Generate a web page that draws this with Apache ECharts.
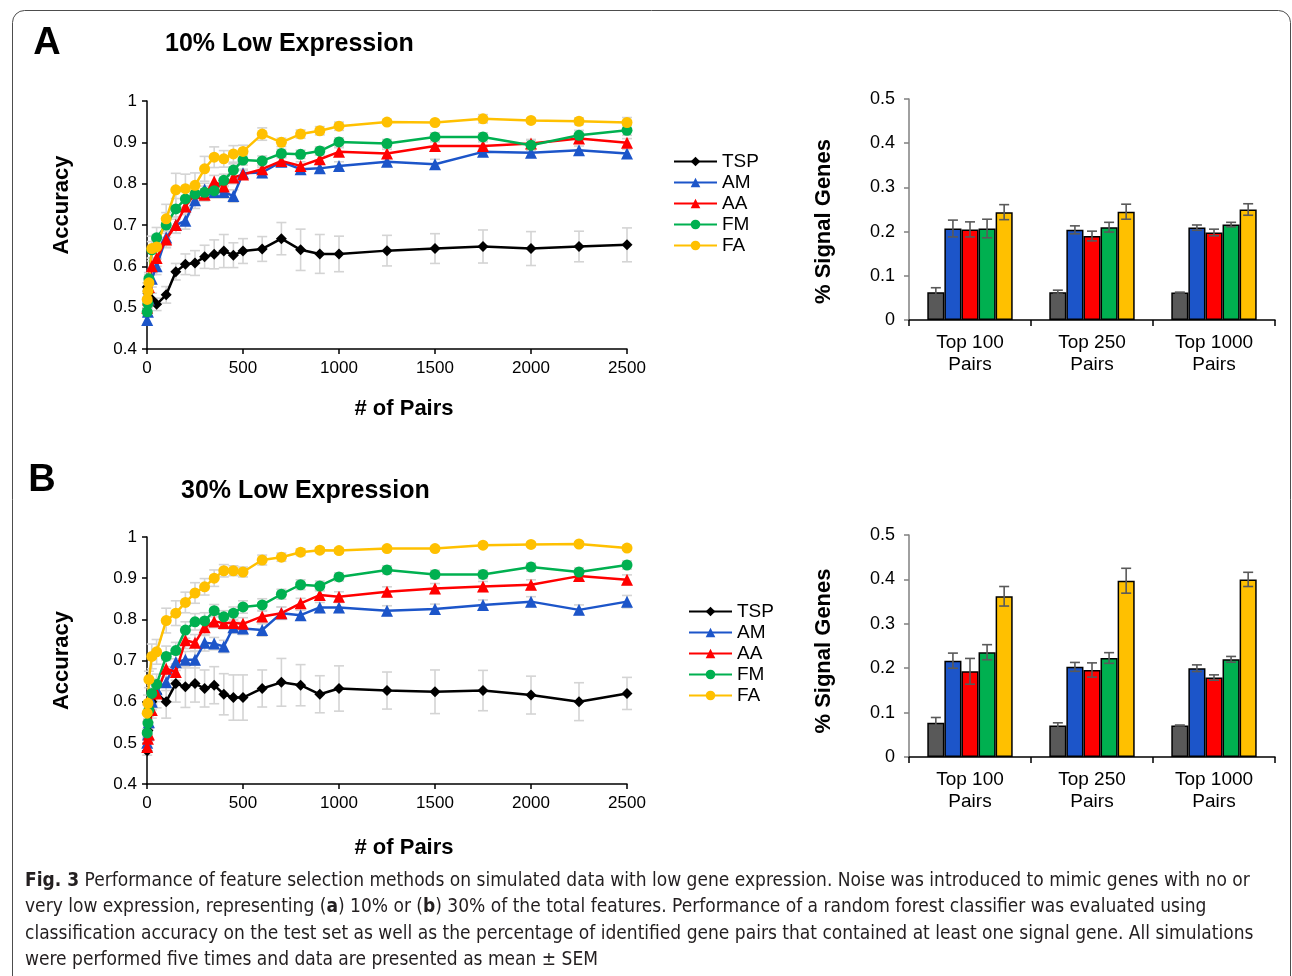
<!DOCTYPE html>
<html lang="en">
<head>
<meta charset="utf-8" />
<title>Fig. 3 - low gene expression</title>
<style>
* { margin: 0; padding: 0; }
#chart-container { position: relative; width: 1292px; height: 976px; overflow: hidden; background: #fff; }
</style>
</head>
<body>
<div id="chart-container"></div>
<script src="https://cdn.jsdelivr.net/npm/echarts@6/dist/echarts.min.js"></script>
<script>
// x positions (# of pairs)
var pairs = [1, 5, 10, 25, 50, 100, 150, 200, 250, 300, 350, 400, 450, 500, 600, 700, 800, 900, 1000, 1250, 1500, 1750, 2000, 2250, 2500];
var methods = ['TSP', 'AM', 'AA', 'FM', 'FA'];
var groups = ['Top 100\nPairs', 'Top 250\nPairs', 'Top 1000\nPairs'];

// panel A - 10% low expression, accuracy
var tspA = [0.55, 0.535, 0.525, 0.52, 0.508, 0.531, 0.587, 0.605, 0.608, 0.623, 0.629, 0.637, 0.627, 0.637, 0.642, 0.667, 0.640, 0.630, 0.630, 0.638, 0.643, 0.648, 0.643, 0.648, 0.652];
var amA = [0.47, 0.49, 0.52, 0.57, 0.60, 0.67, 0.70, 0.71, 0.76, 0.786, 0.78, 0.78, 0.77, 0.825, 0.827, 0.853, 0.835, 0.837, 0.843, 0.853, 0.847, 0.877, 0.875, 0.881, 0.873];
var aaA = [0.50, 0.52, 0.55, 0.60, 0.62, 0.665, 0.70, 0.745, 0.777, 0.773, 0.805, 0.793, 0.815, 0.822, 0.835, 0.855, 0.843, 0.859, 0.877, 0.873, 0.891, 0.891, 0.897, 0.909, 0.899];
var fmA = [0.49, 0.51, 0.57, 0.64, 0.669, 0.70, 0.739, 0.763, 0.775, 0.779, 0.783, 0.808, 0.833, 0.857, 0.855, 0.873, 0.871, 0.879, 0.901, 0.897, 0.913, 0.913, 0.893, 0.917, 0.929];
var faA = [0.52, 0.54, 0.56, 0.643, 0.647, 0.715, 0.785, 0.788, 0.796, 0.836, 0.864, 0.86, 0.872, 0.878, 0.92, 0.90, 0.92, 0.928, 0.939, 0.949, 0.948, 0.957, 0.953, 0.951, 0.948];
var tspAErr = [0.01, 0.01, 0.01, 0.015, 0.015, 0.02, 0.02, 0.025, 0.03, 0.028, 0.035, 0.04, 0.03, 0.03, 0.03, 0.039, 0.05, 0.047, 0.043, 0.037, 0.036, 0.04, 0.041, 0.037, 0.041];
var amAErr = [0.01, 0.01, 0.015, 0.02, 0.02, 0.02, 0.02, 0.02, 0.02, 0.015, 0.015, 0.015, 0.015, 0.01, 0.012, 0.01, 0.01, 0.01, 0.01, 0.01, 0.012, 0.01, 0.01, 0.01, 0.01];
var aaAErr = [0.01, 0.01, 0.015, 0.02, 0.02, 0.02, 0.02, 0.02, 0.02, 0.015, 0.015, 0.015, 0.015, 0.01, 0.01, 0.01, 0.01, 0.01, 0.01, 0.01, 0.01, 0.01, 0.01, 0.01, 0.01];
var fmAErr = [0.01, 0.01, 0.015, 0.02, 0.025, 0.03, 0.025, 0.02, 0.02, 0.015, 0.015, 0.015, 0.015, 0.012, 0.012, 0.01, 0.01, 0.01, 0.01, 0.01, 0.01, 0.01, 0.012, 0.012, 0.012];
var faAErr = [0.02, 0.02, 0.02, 0.03, 0.03, 0.035, 0.04, 0.035, 0.03, 0.03, 0.025, 0.02, 0.02, 0.015, 0.015, 0.01, 0.01, 0.01, 0.01, 0.005, 0.005, 0.01, 0.005, 0.008, 0.012];

// panel B - 30% low expression, accuracy
var tspB = [0.48, 0.53, 0.57, 0.60, 0.62, 0.60, 0.644, 0.636, 0.644, 0.632, 0.64, 0.618, 0.61, 0.61, 0.632, 0.647, 0.64, 0.618, 0.632, 0.627, 0.624, 0.627, 0.616, 0.60, 0.62];
var amB = [0.50, 0.52, 0.55, 0.60, 0.63, 0.647, 0.696, 0.702, 0.702, 0.743, 0.741, 0.734, 0.781, 0.778, 0.774, 0.815, 0.81, 0.829, 0.829, 0.821, 0.825, 0.835, 0.843, 0.823, 0.843];
var aaB = [0.49, 0.51, 0.52, 0.58, 0.62, 0.68, 0.672, 0.749, 0.743, 0.781, 0.795, 0.791, 0.791, 0.789, 0.807, 0.815, 0.839, 0.859, 0.855, 0.867, 0.875, 0.88, 0.884, 0.905, 0.896];
var fmB = [0.524, 0.548, 0.58, 0.62, 0.642, 0.71, 0.724, 0.774, 0.794, 0.796, 0.821, 0.806, 0.815, 0.83, 0.835, 0.861, 0.884, 0.881, 0.903, 0.92, 0.909, 0.909, 0.927, 0.915, 0.932];
var faB = [0.572, 0.596, 0.654, 0.71, 0.721, 0.797, 0.815, 0.841, 0.864, 0.879, 0.9, 0.918, 0.918, 0.915, 0.944, 0.951, 0.963, 0.968, 0.967, 0.972, 0.972, 0.98, 0.982, 0.983, 0.973];
var tspBErr = [0.01, 0.02, 0.02, 0.03, 0.035, 0.04, 0.045, 0.05, 0.045, 0.045, 0.045, 0.05, 0.055, 0.055, 0.045, 0.058, 0.05, 0.045, 0.055, 0.045, 0.053, 0.049, 0.046, 0.046, 0.039];
var amBErr = [0.01, 0.01, 0.015, 0.02, 0.02, 0.02, 0.02, 0.02, 0.02, 0.02, 0.015, 0.015, 0.015, 0.015, 0.015, 0.015, 0.012, 0.012, 0.012, 0.012, 0.012, 0.012, 0.012, 0.012, 0.015];
var aaBErr = [0.01, 0.01, 0.015, 0.02, 0.02, 0.02, 0.02, 0.02, 0.02, 0.02, 0.015, 0.015, 0.015, 0.015, 0.015, 0.015, 0.012, 0.012, 0.012, 0.012, 0.012, 0.012, 0.012, 0.012, 0.012];
var fmBErr = [0.01, 0.01, 0.015, 0.02, 0.025, 0.025, 0.02, 0.02, 0.02, 0.02, 0.015, 0.015, 0.015, 0.015, 0.015, 0.012, 0.012, 0.012, 0.01, 0.01, 0.01, 0.01, 0.01, 0.01, 0.01];
var faBErr = [0.02, 0.02, 0.02, 0.03, 0.03, 0.03, 0.03, 0.025, 0.025, 0.02, 0.02, 0.015, 0.012, 0.012, 0.012, 0.01, 0.008, 0.006, 0.006, 0.005, 0.005, 0.005, 0.005, 0.005, 0.005];

// % signal genes (bars)
var sigA = {
  TSP: [0.063, 0.063, 0.062], AM: [0.207, 0.204, 0.209], AA: [0.205, 0.19, 0.198],
  FM: [0.207, 0.21, 0.216], FA: [0.244, 0.245, 0.25]
};
var sigAErr = {
  TSP: [0.01, 0.0045, 0.001], AM: [0.019, 0.009, 0.006], AA: [0.017, 0.011, 0.0075],
  FM: [0.021, 0.011, 0.005], FA: [0.017, 0.017, 0.013]
};
var sigB = {
  TSP: [0.077, 0.071, 0.071], AM: [0.217, 0.203, 0.2], AA: [0.193, 0.196, 0.179],
  FM: [0.236, 0.223, 0.22], FA: [0.362, 0.397, 0.4]
};
var sigBErr = {
  TSP: [0.012, 0.006, 0.001], AM: [0.017, 0.01, 0.0075], AA: [0.029, 0.016, 0.006],
  FM: [0.017, 0.012, 0.0065], FA: [0.022, 0.028, 0.016]
};

var lineColors = { TSP: '#000000', AM: '#1c55c9', AA: '#ff0000', FM: '#00b050', FA: '#ffc000' };
var barColors = { TSP: '#595959', AM: '#1c55c9', AA: '#ff0000', FM: '#00b050', FA: '#ffc000' };
var symbols = { TSP: 'diamond', AM: 'triangle', AA: 'triangle', FM: 'circle', FA: 'circle' };
var symSize = { TSP: 11, AM: 12, AA: 12, FM: 11, FA: 11 };

var FONT = 'Liberation Sans, Arial, sans-serif';

var dom = document.getElementById('chart-container');
var myChart = echarts.init(dom, null, { renderer: 'canvas' });

function errRender(params, api) {
  var x = api.value(0);
  var p1 = api.coord([x, api.value(1)]);
  var p2 = api.coord([x, api.value(2)]);
  var w = 5;
  var st = { stroke: '#d4d4d4', lineWidth: 1.6 };
  return {
    type: 'group',
    children: [
      { type: 'line', shape: { x1: p1[0], y1: p1[1], x2: p2[0], y2: p2[1] }, style: st },
      { type: 'line', shape: { x1: p1[0] - w, y1: p1[1], x2: p1[0] + w, y2: p1[1] }, style: st },
      { type: 'line', shape: { x1: p2[0] - w, y1: p2[1], x2: p2[0] + w, y2: p2[1] }, style: st }
    ]
  };
}

function barErrRender(params, api) {
  var cat = api.value(0);
  var k = api.value(3);
  var lo = api.coord([cat, api.value(1)]);
  var hi = api.coord([cat, api.value(2)]);
  var bw = api.size([1, 0])[0] * 0.7 / 5;
  var x = lo[0] + (k - 2) * bw;
  var w = 5;
  var st = { stroke: '#595959', lineWidth: 1.6 };
  return {
    type: 'group',
    children: [
      { type: 'line', shape: { x1: x, y1: lo[1], x2: x, y2: hi[1] }, style: st },
      { type: 'line', shape: { x1: x - w, y1: lo[1], x2: x + w, y2: lo[1] }, style: st },
      { type: 'line', shape: { x1: x - w, y1: hi[1], x2: x + w, y2: hi[1] }, style: st }
    ]
  };
}

var series = [];

function addLinePanel(idx, vals, errs) {
  methods.forEach(function (m, j) {
    var ed = [];
    for (var i = 0; i < pairs.length; i++) {
      ed.push([pairs[i], vals[j][i] - errs[j][i], vals[j][i] + errs[j][i]]);
    }
    series.push({
      type: 'custom', name: m + ' err' + idx, xAxisIndex: idx, yAxisIndex: idx,
      renderItem: errRender, data: ed, encode: { x: 0, y: [1, 2] }, z: 1, silent: true, clip: false
    });
  });
  methods.forEach(function (m, j) {
    var d = [];
    for (var i = 0; i < pairs.length; i++) d.push([pairs[i], vals[j][i]]);
    series.push({
      type: 'line', name: m, xAxisIndex: idx, yAxisIndex: idx, data: d,
      symbol: symbols[m], symbolSize: symSize[m], showAllSymbol: true, clip: false,
      color: lineColors[m],
      lineStyle: { color: lineColors[m], width: 2.5 },
      itemStyle: { color: lineColors[m] }, z: 3
    });
  });
}

function addBarPanel(idx, vals, errs) {
  var ed = [];
  methods.forEach(function (m, k) {
    series.push({
      type: 'bar', name: m + ' %' + idx, xAxisIndex: idx, yAxisIndex: idx,
      data: vals[m], barGap: '0%', barCategoryGap: '30%',
      itemStyle: { color: barColors[m], borderColor: '#000', borderWidth: 1.5 }, z: 2
    });
    for (var c = 0; c < groups.length; c++) {
      ed.push([c, vals[m][c] - errs[m][c], vals[m][c] + errs[m][c], k]);
    }
  });
  series.push({
    type: 'custom', name: 'bar err' + idx, xAxisIndex: idx, yAxisIndex: idx,
    renderItem: barErrRender, data: ed, encode: { x: 0, y: [1, 2] }, z: 4, silent: true, clip: false
  });
}

addLinePanel(0, [tspA, amA, aaA, fmA, faA], [tspAErr, amAErr, aaAErr, fmAErr, faAErr]);
addBarPanel(1, sigA, sigAErr);
addLinePanel(2, [tspB, amB, aaB, fmB, faB], [tspBErr, amBErr, aaBErr, fmBErr, faBErr]);
addBarPanel(3, sigB, sigBErr);

function accX(gap) {
  return {
    type: 'value', min: 0, max: 2500, interval: 500,
    axisLine: { show: true, lineStyle: { color: '#000', width: 1.5 } },
    axisTick: { show: true, length: 5, lineStyle: { color: '#000', width: 1.5 } },
    axisLabel: {
      fontSize: 17, color: '#000', fontFamily: FONT, margin: 11,
      formatter: function (v) { return String(v); }
    },
    splitLine: { show: false },
    name: '# of Pairs', nameLocation: 'middle', nameGap: gap,
    nameTextStyle: { fontSize: 22, fontWeight: 'bold', color: '#000', fontFamily: FONT, padding: [0, 0, 0, 34] }
  };
}
function accY(pad) {
  return {
    type: 'value', min: 0.4, max: 1, interval: 0.1,
    axisLine: { show: true, lineStyle: { color: '#000', width: 1.5 } },
    axisTick: { show: true, length: 5, lineStyle: { color: '#000', width: 1.5 } },
    axisLabel: {
      fontSize: 17, color: '#000', fontFamily: FONT, margin: 10,
      formatter: function (v) { return Math.abs(v - 1) < 1e-9 ? '1' : v.toFixed(1); }
    },
    splitLine: { show: false },
    name: 'Accuracy', nameLocation: 'middle', nameGap: 74, nameRotate: 90,
    nameTextStyle: { fontSize: 22, fontWeight: 'bold', color: '#000', fontFamily: FONT, padding: pad }
  };
}
function sigX() {
  return {
    type: 'category', data: groups,
    axisLine: { show: true, lineStyle: { color: '#000', width: 1.5 } },
    axisTick: { show: true, length: 6, lineStyle: { color: '#000', width: 1.5 } },
    axisLabel: { fontSize: 19, lineHeight: 22, color: '#000', fontFamily: FONT, margin: 12 }
  };
}
function sigY(pad) {
  return {
    type: 'value', min: 0, max: 0.5, interval: 0.1,
    axisLine: { show: true, lineStyle: { color: '#808080', width: 1.5 } },
    axisTick: { show: true, length: 5, lineStyle: { color: '#808080', width: 1.5 } },
    axisLabel: {
      fontSize: 18, color: '#000', fontFamily: FONT, margin: 14,
      formatter: function (v) { return v === 0 ? '0' : v.toFixed(1); }
    },
    splitLine: { show: false },
    name: '% Signal Genes', nameLocation: 'middle', nameGap: 74, nameRotate: 90,
    nameTextStyle: { fontSize: 22, fontWeight: 'bold', color: '#000', fontFamily: FONT, padding: pad }
  };
}

function legendAt(left, top) {
  return {
    orient: 'vertical', left: left, top: top, data: methods, selectedMode: false,
    itemWidth: 43, itemHeight: 12, itemGap: 2,
    textStyle: { fontSize: 19, lineHeight: 19, color: '#000', fontFamily: FONT }
  };
}

function label(x, y, text, size, align) {
  return {
    type: 'text', x: x, y: y,
    style: {
      text: text, fontSize: size, fontWeight: 'bold', fontFamily: FONT, fill: '#000',
      align: align || 'left', verticalAlign: 'middle'
    }
  };
}

var capFont = 'Liberation Sans Narrow, DejaVu Sans Condensed, Arial Narrow, sans-serif';
var captionLines = [
  '{b|Fig. 3} Performance of feature selection methods on simulated data with low gene expression. Noise was introduced to mimic genes with no or',
  'very low expression, representing ({b|a}) 10% or ({b|b}) 30% of the total features. Performance of a random forest classifier was evaluated using',
  'classification accuracy on the test set as well as the percentage of identified gene pairs that contained at least one signal gene. All simulations',
  'were performed five times and data are presented as mean \u00b1 SEM'
];
var captionY = [881, 907, 934, 960];

var graphics = [
  {
    type: 'rect', shape: { x: 12.5, y: 10.5, width: 1278, height: 1000, r: 12 },
    style: { fill: 'none', stroke: '#4d4d4d', lineWidth: 1 }, silent: true
  },
  label(47, 44, 'A', 38, 'center'),
  label(165, 44, '10% Low Expression', 25),
  label(42, 481, 'B', 38, 'center'),
  label(181, 491, '30% Low Expression', 25)
];
captionLines.forEach(function (t, i) {
  graphics.push({
    type: 'text', x: 25, y: captionY[i],
    style: {
      text: t, fontSize: 19, fontFamily: capFont, fill: '#231f20',
      align: 'left', verticalAlign: 'middle',
      rich: { b: { fontSize: 19, fontFamily: capFont, fontWeight: 'bold', fill: '#231f20' } }
    }
  });
});

var option = {
  animation: false,
  backgroundColor: '#fff',
  grid: [
    { left: 147, top: 101, width: 480, height: 248 },
    { left: 909, top: 99, width: 366, height: 221 },
    { left: 147, top: 537, width: 480, height: 247 },
    { left: 909, top: 535, width: 366, height: 222 }
  ],
  xAxis: [
    Object.assign(accX(49), { gridIndex: 0 }),
    Object.assign(sigX(), { gridIndex: 1 }),
    Object.assign(accX(53), { gridIndex: 2 }),
    Object.assign(sigX(), { gridIndex: 3 })
  ],
  yAxis: [
    Object.assign(accY([0, 0, 0, 40]), { gridIndex: 0 }),
    Object.assign(sigY([0, 24, 0, 0]), { gridIndex: 1 }),
    Object.assign(accY([0, 0, 0, 0]), { gridIndex: 2 }),
    Object.assign(sigY([0, 10, 0, 0]), { gridIndex: 3 })
  ],
  legend: [legendAt(668, 147), legendAt(683, 597)],
  graphic: graphics,
  series: series
};

myChart.setOption(option);
window.addEventListener('resize', myChart.resize);
</script>
</body>
</html>
